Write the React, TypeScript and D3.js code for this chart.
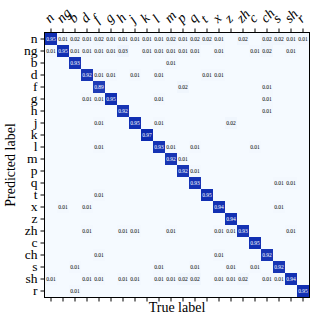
import { useEffect, useRef } from 'react';
import * as d3 from 'd3';

// phoneme classes, same order on both axes
const labels = ['n', 'ng', 'b', 'd', 'f', 'g', 'h', 'j', 'k', 'l', 'm', 'p', 'q', 't', 'x', 'z', 'zh', 'c', 'ch', 's', 'sh', 'r'];

// diagonal (correct) rates, one per class
const diagonal = [0.95, 0.95, 0.93, 0.92, 0.89, 0.95, 0.92, 0.95, 0.97, 0.93, 0.92, 0.92, 0.93, 0.95, 0.94, 0.94, 0.93, 0.95, 0.92, 0.92, 0.94, 0.95];

// off-diagonal confusions: [predicted row, true column, value]
const confusions: [number, number, number][] = [
  [0, 1, 0.01], [0, 2, 0.02], [0, 3, 0.01], [0, 4, 0.02], [0, 5, 0.01], [0, 6, 0.01], [0, 7, 0.01], [0, 8, 0.01],
  [0, 9, 0.01], [0, 10, 0.02], [0, 11, 0.01], [0, 12, 0.02], [0, 13, 0.02], [0, 14, 0.01], [0, 16, 0.02],
  [0, 18, 0.02], [0, 19, 0.02], [0, 20, 0.01], [0, 21, 0.01],
  [1, 0, 0.01], [1, 2, 0.01], [1, 3, 0.01], [1, 4, 0.01], [1, 5, 0.01], [1, 6, 0.03], [1, 8, 0.01], [1, 9, 0.01],
  [1, 10, 0.01], [1, 11, 0.01], [1, 12, 0.01], [1, 14, 0.01], [1, 17, 0.01], [1, 18, 0.02], [1, 20, 0.01],
  [2, 10, 0.01],
  [3, 4, 0.01], [3, 5, 0.01], [3, 7, 0.01], [3, 9, 0.01], [3, 13, 0.01], [3, 14, 0.01],
  [4, 11, 0.02], [4, 18, 0.01],
  [5, 3, 0.01], [5, 4, 0.01], [5, 9, 0.01], [5, 18, 0.01],
  [6, 18, 0.01],
  [7, 4, 0.01], [7, 9, 0.01], [7, 15, 0.02],
  [9, 4, 0.01], [9, 10, 0.01], [9, 12, 0.01], [9, 17, 0.01],
  [10, 11, 0.01],
  [11, 12, 0.01],
  [12, 19, 0.01], [12, 20, 0.01],
  [13, 4, 0.01],
  [14, 1, 0.01], [14, 3, 0.01], [14, 19, 0.01],
  [16, 3, 0.01], [16, 6, 0.01], [16, 7, 0.01], [16, 10, 0.01], [16, 14, 0.01], [16, 15, 0.01], [16, 20, 0.01],
  [18, 4, 0.01], [18, 14, 0.01],
  [19, 2, 0.01], [19, 9, 0.01], [19, 12, 0.01], [19, 15, 0.01], [19, 17, 0.01],
  [20, 0, 0.01], [20, 3, 0.01], [20, 4, 0.01], [20, 6, 0.01], [20, 7, 0.01], [20, 9, 0.01], [20, 10, 0.01],
  [20, 11, 0.02], [20, 12, 0.02], [20, 14, 0.01], [20, 15, 0.01], [20, 16, 0.02], [20, 18, 0.01], [20, 19, 0.01],
  [21, 2, 0.01],
];

const serif = '"Liberation Serif", "DejaVu Serif", serif';

const App = () => {
  const ref = useRef<SVGSVGElement>(null);

  useEffect(() => {
    const margin = { top: 33, left: 45 };
    const size = 264;

    const svg = d3.select(ref.current);
    svg.selectAll('*').remove();

    const x = d3.scaleBand().domain(labels).range([margin.left, margin.left + size]);
    const y = d3.scaleBand().domain(labels).range([margin.top, margin.top + size]);
    const color = d3.scaleLinear<string>().domain([0, 1]).range(['#f5faff', '#0524ae']);

    // build full matrix
    const cells: { r: number; c: number; v: number }[] = [];
    labels.forEach((_, r) => labels.forEach((_, c) => cells.push({ r, c, v: 0 })));
    diagonal.forEach((v, i) => { cells[i * labels.length + i].v = v; });
    confusions.forEach(([r, c, v]) => { cells[r * labels.length + c].v = v; });

    const g = svg.append('g');
    g.selectAll('rect')
      .data(cells)
      .join('rect')
      .attr('x', d => x(labels[d.c])!)
      .attr('y', d => y(labels[d.r])!)
      .attr('width', x.bandwidth())
      .attr('height', y.bandwidth())
      .attr('fill', d => color(d.v));

    g.selectAll('text')
      .data(cells.filter(d => d.v > 0))
      .join('text')
      .attr('x', d => x(labels[d.c])! + x.bandwidth() / 2)
      .attr('y', d => y(labels[d.r])! + y.bandwidth() / 2)
      .attr('dy', '0.35em')
      .attr('text-anchor', 'middle')
      .attr('font-family', serif)
      .attr('font-size', 5.5)
      .attr('fill', d => (d.v > 0.5 ? '#ffffff' : '#000000'))
      .text(d => d.v.toFixed(2));

    // frame
    svg.append('rect')
      .attr('x', margin.left - 0.5)
      .attr('y', margin.top - 0.5)
      .attr('width', size + 1)
      .attr('height', size + 1)
      .attr('fill', 'none')
      .attr('stroke', '#000')
      .attr('stroke-width', 1);

    // left axis
    const left = svg.append('g')
      .attr('transform', `translate(${margin.left - 0.5},0)`)
      .call(d3.axisLeft(y).tickSize(4).tickPadding(3));
    left.select('.domain').remove();
    left.selectAll('text').attr('font-family', serif).attr('font-size', 13.5).attr('fill', '#000');

    // bottom ticks
    const bottom = svg.append('g')
      .attr('transform', `translate(0,${margin.top + size + 0.5})`)
      .call(d3.axisBottom(x).tickSize(4).tickFormat(() => ''));
    bottom.select('.domain').remove();

    // top ticks with rotated italic labels
    const top = svg.append('g')
      .attr('transform', `translate(0,${margin.top - 0.5})`)
      .call(d3.axisTop(x).tickSize(4));
    top.select('.domain').remove();
    top.selectAll('text')
      .attr('font-family', serif)
      .attr('font-style', 'italic')
      .attr('font-size', 14)
      .attr('fill', '#000')
      .attr('text-anchor', 'start')
      .attr('x', 0)
      .attr('y', 0)
      .attr('dy', 0)
      .attr('transform', 'translate(-1,-9) rotate(-45)');

    svg.append('text')
      .attr('x', margin.left + size / 2)
      .attr('y', 312)
      .attr('text-anchor', 'middle')
      .attr('font-family', serif)
      .attr('font-size', 14)
      .text('True label');

    svg.append('text')
      .attr('transform', `translate(15,${margin.top + size / 2}) rotate(-90)`)
      .attr('text-anchor', 'middle')
      .attr('font-family', serif)
      .attr('font-size', 14)
      .text('Predicted label');
  }, []);

  return <svg ref={ref} width={318} height={318} style={{ position: 'absolute', left: 0, top: 0, background: '#fff' }} />;
};

export default App;
